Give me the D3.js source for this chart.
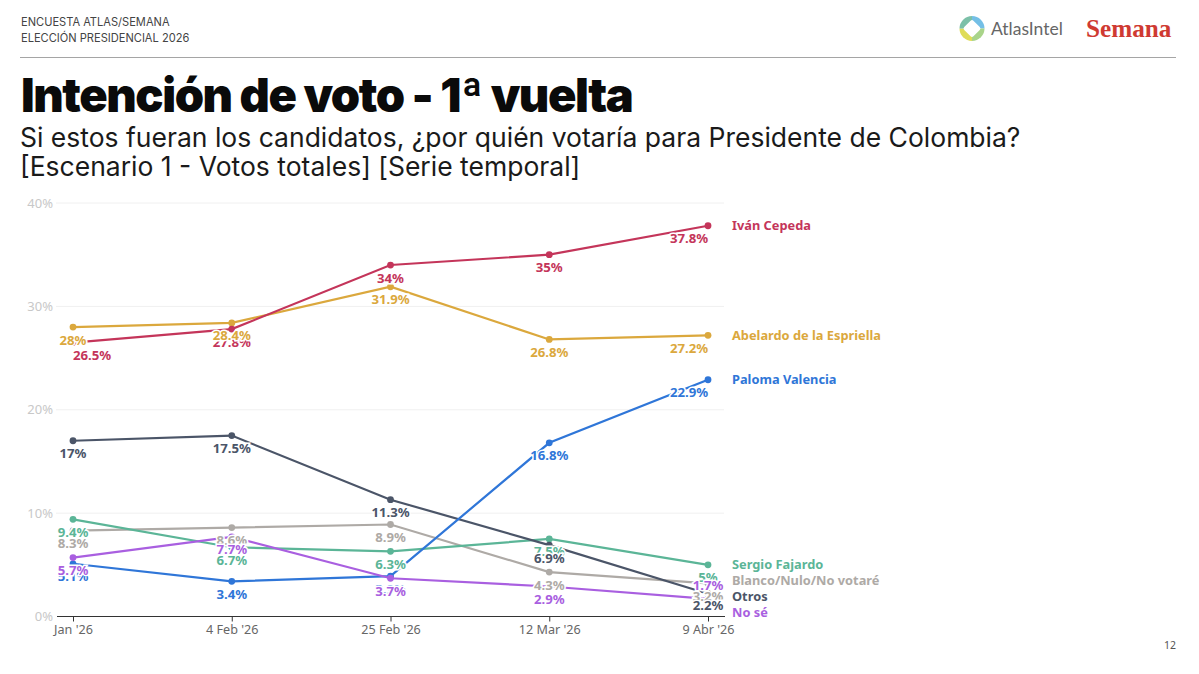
<!DOCTYPE html>
<html lang="es">
<head>
  <meta charset="utf-8" />
  <title>Intención de voto - 1ª vuelta</title>
  <script src="https://cdn.jsdelivr.net/npm/d3@7"></script>
  <style>
    html, body { margin: 0; padding: 0; background: #fff; }
    svg { display: block; }
    text { font-family: "Noto Sans", sans-serif; }
    .head { font-family: Inter, sans-serif; }
  </style>
</head>
<body>
  <div id="chart"></div>
  <script>
    // datos
    const dates = ["Jan '26", "4 Feb '26", "25 Feb '26", "12 Mar '26", "9 Abr '26"];
    const yTicks = [0, 10, 20, 30, 40];

    const cepeda = [26.5, 27.8, 34, 35, 37.8];
    const abelardo = [28, 28.4, 31.9, 26.8, 27.2];
    const paloma = [5.1, 3.4, 3.9, 16.8, 22.9];
    const fajardo = [9.4, 6.7, 6.3, 7.5, 5];
    const blanco = [8.3, 8.6, 8.9, 4.3, 3.2];
    const otros = [17, 17.5, 11.3, 6.9, 2.2];
    const noSe = [5.7, 7.7, 3.7, 2.9, 1.7];

    const names = ["Iván Cepeda", "Abelardo de la Espriella", "Paloma Valencia", "Sergio Fajardo", "Blanco/Nulo/No votaré", "Otros", "No sé"];

    // colores y posiciones aparte de los datos
    const colors = ["#c4355a", "#dba83d", "#2f76d8", "#5bb597", "#aeaaa6", "#4b5568", "#a95fe0"];
    const drawOrder = [4, 3, 5, 2, 6, 1, 0];
    const labelOrder = [0, 1, 4, 3, 5, 2, 6];
    const nameY = { 0: 225.5, 1: 335.5, 2: 380, 3: 565, 4: 581, 5: 597, 6: 613 };
    // ajustes manuales de etiquetas que chocan [serie, punto, dx, dy]
    const nudges = [[0, 0, 19, 0], [0, 4, -19, 0], [1, 4, -19, 0], [2, 4, -19, 0], [6, 4, 0, -26.5], [5, 4, 0, -1.5]];

    const width = 1199;
    const height = 674;

    const x = d3.scalePoint().domain(dates).range([73, 708]);
    const y = d3.scaleLinear().domain([0, 40]).range([616.5, 203]);

    const svg = d3.select("#chart").append("svg")
      .attr("width", width)
      .attr("height", height)
      .attr("viewBox", [0, 0, width, height]);

    // cabecera
    const headLines = ["ENCUESTA ATLAS/SEMANA", "ELECCIÓN PRESIDENCIAL 2026"];
    svg.append("g").selectAll("text").data(headLines).join("text")
      .attr("class", "head")
      .attr("x", 21)
      .attr("y", (d, i) => 26 + i * 15.5)
      .attr("font-size", 11.1)
      .attr("fill", "#444")
      .text(d => d);

    svg.append("line")
      .attr("x1", 20).attr("x2", 1176)
      .attr("y1", 57.5).attr("y2", 57.5)
      .attr("stroke", "#a5a5a5")
      .attr("stroke-width", 1.2);

    svg.append("text")
      .attr("class", "head")
      .attr("x", 21).attr("y", 112)
      .attr("font-size", 47)
      .attr("font-weight", 900)
      .attr("letter-spacing", -1.45)
      .attr("fill", "#0a0a0a")
      .text("Intención de voto - 1ª vuelta");

    const subLines = ["Si estos fueran los candidatos, ¿por quién votaría para Presidente de Colombia?", "[Escenario 1 - Votos totales] [Serie temporal]"];
    svg.append("g").selectAll("text").data(subLines).join("text")
      .attr("class", "head")
      .attr("x", 20)
      .attr("y", (d, i) => 147 + i * 29)
      .attr("font-size", 26.5)
      .attr("fill", "#1a1a1a")
      .text(d => d);

    // logo AtlasIntel
    const logo = svg.append("g").attr("transform", "translate(972,28.5)");
    const ringColors = ["#74bfe6", "#a9d48a", "#dfdc58", "#7cc0a8"];
    const ring = d3.arc().innerRadius(0).outerRadius(12.5);
    logo.selectAll("path").data(ringColors).join("path")
      .attr("d", (d, i) => ring({ startAngle: i * Math.PI / 2, endAngle: (i + 1) * Math.PI / 2 }))
      .attr("fill", d => d);
    logo.append("rect")
      .attr("x", -6.5).attr("y", -6.5)
      .attr("width", 13).attr("height", 13)
      .attr("rx", 2)
      .attr("transform", "rotate(45)")
      .attr("fill", "#fff");
    svg.append("text")
      .attr("x", 991).attr("y", 35)
      .attr("font-size", 17.5)
      .attr("fill", "#666")
      .style("font-family", "Lato, sans-serif")
      .text("AtlasIntel");
    svg.append("text")
      .attr("x", 1086).attr("y", 36.5)
      .attr("font-size", 25.2)
      .attr("font-weight", 700)
      .attr("fill", "#cf3a32")
      .style("font-family", "'Liberation Serif', serif")
      .text("Semana");

    // rejilla
    svg.append("g").selectAll("line").data(yTicks.filter(d => d > 0)).join("line")
      .attr("x1", 56).attr("x2", 724)
      .attr("y1", d => y(d)).attr("y2", d => y(d))
      .attr("stroke", "#f0f0f0");

    svg.append("g").selectAll("text").data(yTicks).join("text")
      .attr("x", 53)
      .attr("y", d => y(d))
      .attr("dy", "0.35em")
      .attr("text-anchor", "end")
      .attr("font-size", 13)
      .attr("fill", "#c8c8c8")
      .text(d => d + "%");

    // eje x
    const xAxis = svg.append("g")
      .attr("transform", `translate(0,${y(0)})`)
      .call(d3.axisBottom(x).tickSize(5).tickPadding(4));
    xAxis.select(".domain").attr("d", "M57,0H725").attr("stroke", "#333").attr("stroke-width", 1.1);
    xAxis.selectAll(".tick line").attr("stroke", "#333");
    xAxis.selectAll(".tick text")
      .attr("font-size", 12.6)
      .attr("fill", "#666")
      .style("font-family", "'Noto Sans', sans-serif");

    // series
    const seriesValues = [cepeda, abelardo, paloma, fajardo, blanco, otros, noSe];
    const line = d3.line().x((d, i) => x(dates[i])).y(d => y(d));

    const serie = svg.append("g").selectAll("g").data(drawOrder).join("g");
    serie.append("path")
      .attr("fill", "none")
      .attr("stroke", k => colors[k])
      .attr("stroke-width", 2.2)
      .attr("d", k => line(seriesValues[k]));
    serie.selectAll("circle").data(k => seriesValues[k].map(v => ({ k, v }))).join("circle")
      .attr("cx", (d, i) => x(dates[i]))
      .attr("cy", d => y(d.v))
      .attr("r", 3.4)
      .attr("fill", d => colors[d.k]);

    // etiquetas de valor
    const labelGroup = svg.append("g");
    labelOrder.forEach(k => {
      seriesValues[k].forEach((v, i) => {
        const n = nudges.find(a => a[0] === k && a[1] === i) || [k, i, 0, 0];
        labelGroup.append("text")
          .attr("x", x(dates[i]) + n[2])
          .attr("y", y(v) + 17.5 + n[3])
          .attr("text-anchor", "middle")
          .attr("font-size", 13.2)
          .attr("font-weight", 700)
          .attr("fill", colors[k])
          .attr("stroke", "white")
          .attr("stroke-width", 3)
          .attr("paint-order", "stroke")
          .text(v + "%");
      });
    });

    // nombres a la derecha
    svg.append("g").selectAll("text").data(names).join("text")
      .attr("x", 732)
      .attr("y", (d, i) => nameY[i])
      .attr("dy", "0.35em")
      .attr("font-size", 12.8)
      .attr("font-weight", 700)
      .attr("fill", (d, i) => colors[i])
      .text(d => d);

    // número de página
    svg.append("text")
      .attr("x", 1176).attr("y", 649)
      .attr("text-anchor", "end")
      .attr("font-size", 10.5)
      .attr("fill", "#555")
      .text("12");
  </script>
</body>
</html>
